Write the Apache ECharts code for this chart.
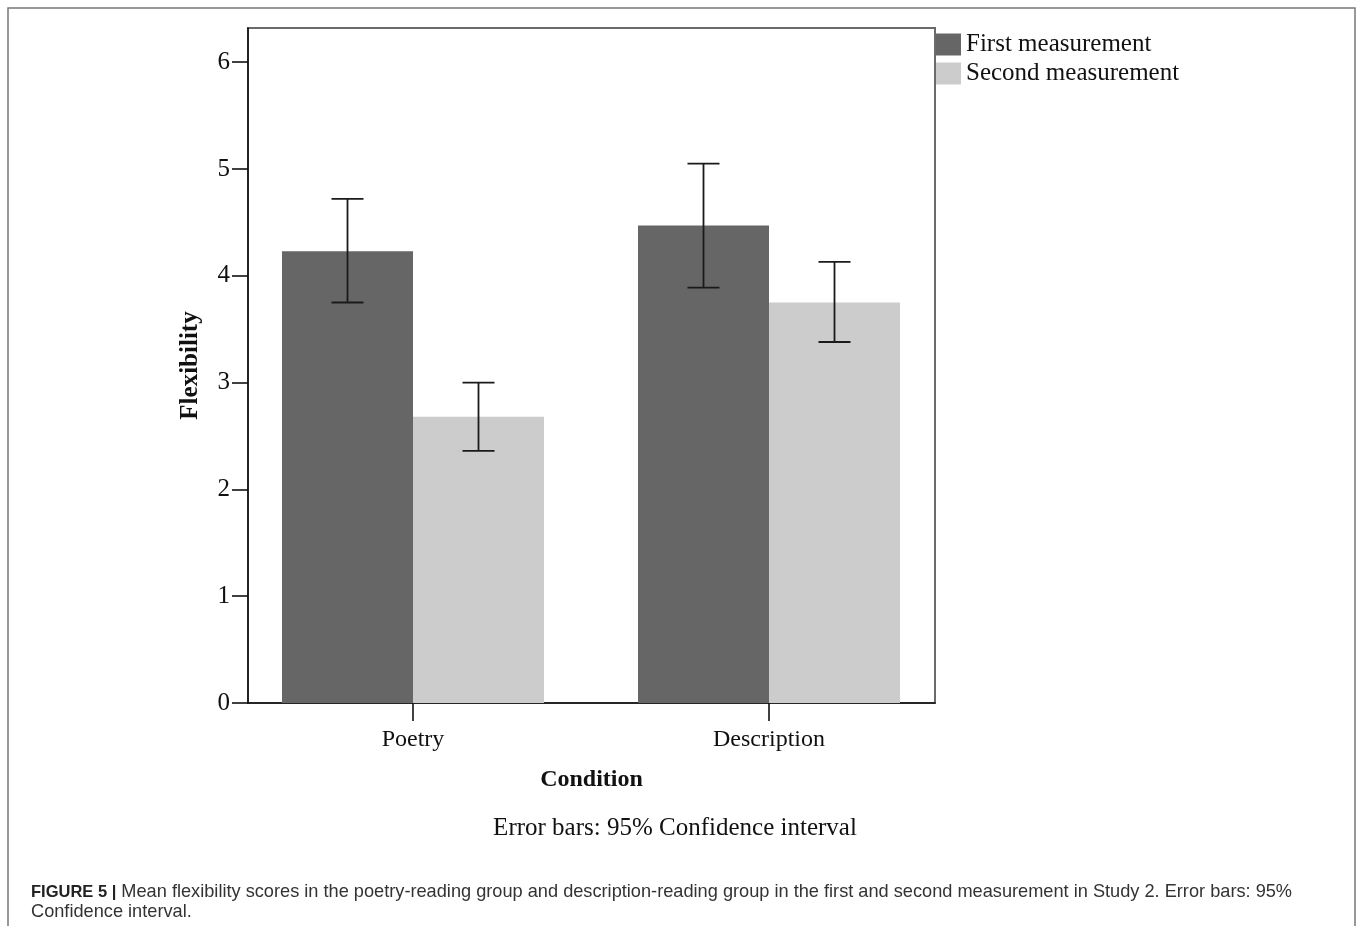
<!DOCTYPE html>
<html>
<head>
<meta charset="utf-8">
<script src="https://cdn.jsdelivr.net/npm/echarts@6/dist/echarts.min.js"></script>
<style>
html,body{margin:0;padding:0;background:#fff;}
#chart{width:1357px;height:926px;}
</style>
</head>
<body>
<div id="chart"></div>
<script>
// ---- data ----
const categories = ['Poetry', 'Description'];
const seriesNames = ['First measurement', 'Second measurement'];
const firstMeans = [4.23, 4.47];
const secondMeans = [2.68, 3.75];
const firstCI = [[3.75, 4.72], [3.89, 5.05]];   // [low, high]
const secondCI = [[2.36, 3.00], [3.38, 4.13]];
const yTicks = [0, 1, 2, 3, 4, 5, 6];
const yMax = 6.32;
const xTitle = 'Condition';
const yTitle = 'Flexibility';
const noteText = 'Error bars: 95% Confidence interval';
const captionBold = 'FIGURE 5 |';
const captionLine1 = ' Mean flexibility scores in the poetry-reading group and description-reading group in the first and second measurement in Study 2. Error bars: 95%';
const captionLine2 = 'Confidence interval.';

const SERIF = "'Liberation Serif', 'DejaVu Serif', serif";
const SANS = "'Liberation Sans', Arial, sans-serif";
const BAR_W = 131;

function errData(ci) { return ci.map((d, i) => [i, d[0], d[1]]); }
function makeErr(offset) {
  return function (params, api) {
    const c = api.value(0);
    const lo = api.coord([c, api.value(1)]);
    const hi = api.coord([c, api.value(2)]);
    const x = lo[0] + offset;
    const hw = 16;
    const st = { stroke: '#1a1a1a', lineWidth: 1.8 };
    return {
      type: 'group',
      children: [
        { type: 'line', shape: { x1: x, y1: hi[1], x2: x, y2: lo[1] }, style: st },
        { type: 'line', shape: { x1: x - hw, y1: hi[1], x2: x + hw, y2: hi[1] }, style: st },
        { type: 'line', shape: { x1: x - hw, y1: lo[1], x2: x + hw, y2: lo[1] }, style: st }
      ]
    };
  };
}

const chart = echarts.init(document.getElementById('chart'), null, { renderer: 'canvas' });
const option = {
  backgroundColor: '#fff',
  animation: false,
  textStyle: { fontFamily: SERIF },
  grid: [
    { left: 248, top: 28, width: 687, height: 675, show: true, borderColor: '#6a6a6a', borderWidth: 2, backgroundColor: 'transparent' },
    { left: 235, top: 28, width: 712, height: 675 }
  ],
  legend: {
    orient: 'vertical', left: 936, top: 32, padding: 0,
    itemWidth: 25, itemHeight: 22, itemGap: 4,
    icon: 'rect',
    data: seriesNames,
    textStyle: { fontFamily: SERIF, fontSize: 25, color: '#111' }
  },
  xAxis: [
    {
      gridIndex: 0, type: 'value', min: 0, max: 1,
      axisLine: { show: true, lineStyle: { color: '#111', width: 1.6 } },
      axisTick: { show: false }, axisLabel: { show: false }, splitLine: { show: false },
      name: xTitle, nameLocation: 'middle', nameGap: 65,
      nameTextStyle: { fontFamily: SERIF, fontSize: 24, fontWeight: 'bold', color: '#111' }
    },
    {
      gridIndex: 1, type: 'category', data: categories,
      axisLine: { show: false },
      axisTick: { show: true, alignWithLabel: true, length: 18, lineStyle: { color: '#111', width: 1.6 } },
      axisLabel: { margin: 25, fontFamily: SERIF, fontSize: 24, color: '#111' },
      splitLine: { show: false }
    }
  ],
  yAxis: [
    {
      gridIndex: 0, type: 'value', min: 0, max: yMax, interval: 1,
      axisLine: { show: true, lineStyle: { color: '#111', width: 1.6 } },
      axisTick: { show: true, length: 16, customValues: yTicks, lineStyle: { color: '#111', width: 1.6 } },
      axisLabel: { margin: 18, customValues: yTicks, fontFamily: SERIF, fontSize: 25, color: '#111' },
      splitLine: { show: false },
      name: yTitle, nameLocation: 'middle', nameGap: 45, nameRotate: 90,
      nameTextStyle: { fontFamily: SERIF, fontSize: 25, fontWeight: 'bold', color: '#111' }
    },
    { gridIndex: 1, type: 'value', min: 0, max: yMax, show: false }
  ],
  series: [
    {
      name: seriesNames[0], type: 'bar', xAxisIndex: 1, yAxisIndex: 1,
      data: firstMeans, barWidth: BAR_W, barGap: '0%',
      itemStyle: { color: '#666666' }
    },
    {
      name: seriesNames[1], type: 'bar', xAxisIndex: 1, yAxisIndex: 1,
      data: secondMeans, barWidth: BAR_W, barGap: '0%',
      itemStyle: { color: '#cccccc' }
    },
    {
      name: 'err1', type: 'custom', xAxisIndex: 1, yAxisIndex: 1,
      data: errData(firstCI), encode: { x: 0, y: [1, 2] },
      renderItem: makeErr(-BAR_W / 2), z: 5
    },
    {
      name: 'err2', type: 'custom', xAxisIndex: 1, yAxisIndex: 1,
      data: errData(secondCI), encode: { x: 0, y: [1, 2] },
      renderItem: makeErr(BAR_W / 2), z: 5
    }
  ],
  graphic: [
    {
      type: 'rect', silent: true,
      shape: { x: 8, y: 8, width: 1347, height: 940 },
      style: { fill: 'none', stroke: '#777', lineWidth: 1.5 }
    },
    {
      type: 'text', x: 675, y: 828,
      style: { text: noteText, font: "25px 'Liberation Serif', serif", fill: '#111', textAlign: 'center', textVerticalAlign: 'middle' }
    },
    {
      type: 'text', x: 31, y: 892,
      style: {
        text: '{b|' + captionBold + '}{n|' + captionLine1 + '}',
        textVerticalAlign: 'middle',
        rich: {
          b: { fontFamily: SANS, fontSize: 16.5, fontWeight: 'bold', fill: '#222', color: '#222' },
          n: { fontFamily: SANS, fontSize: 18.2, fill: '#333', color: '#333' }
        }
      }
    },
    {
      type: 'text', x: 31, y: 912,
      style: { text: captionLine2, font: "18.2px 'Liberation Sans', Arial, sans-serif", fill: '#333', textVerticalAlign: 'middle' }
    }
  ]
};
chart.setOption(option);
</script>
</body>
</html>
